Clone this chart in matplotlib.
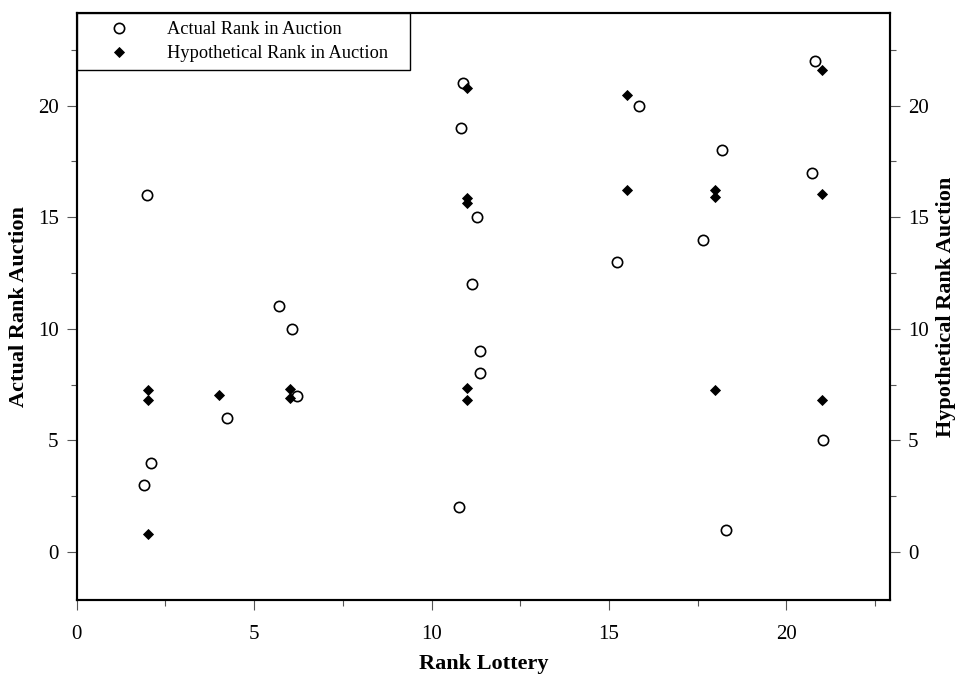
import matplotlib
matplotlib.use("Agg")
import matplotlib.pyplot as plt
from matplotlib.ticker import MultipleLocator

plt.rcParams['font.family'] = ['Liberation Serif', 'DejaVu Serif']

# Actual rank in auction (open circles), x = rank lottery (jittered)
actual_x = [1.99, 2.09, 1.91, 4.23, 5.71, 6.07, 6.20,
            10.88, 10.84, 11.27, 11.13, 11.38, 11.36, 10.78,
            15.84, 15.23, 18.20, 17.66, 18.31, 20.82, 20.73, 21.02]
actual_y = [16, 4, 3, 6, 11, 10, 7,
            21, 19, 15, 12, 9, 8, 2,
            20, 13, 18, 14, 1, 22, 17, 5]

# Hypothetical rank in auction (filled diamonds)
hypo_x = [2, 2, 2, 4, 6, 6,
          11, 11, 11, 11, 11,
          15.5, 15.5, 18, 18, 18, 21, 21, 21]
hypo_y = [7.27, 6.83, 0.79, 7.02, 7.30, 6.88,
          20.77, 15.87, 15.62, 7.35, 6.83,
          20.46, 16.24, 16.21, 15.91, 7.24, 21.60, 16.02, 6.80]

x_ticks = [0, 5, 10, 15, 20]
y_ticks = [0, 5, 10, 15, 20]

fig = plt.figure(figsize=(9.59, 6.79), dpi=100)
ax = fig.add_axes([0.080, 0.1163, 0.848, 0.864])
ax2 = ax.twinx()

h1, = ax.plot(actual_x, actual_y, linestyle='none', marker='o', markersize=7.4,
              markerfacecolor='white', markeredgecolor='black', markeredgewidth=1.2,
              label='Actual Rank in Auction', zorder=3)
h2, = ax2.plot(hypo_x, hypo_y, linestyle='none', marker='D', markersize=4.6,
               markerfacecolor='black', markeredgecolor='black', markeredgewidth=0.6,
               label='Hypothetical Rank in Auction', zorder=3)

ylim = (-2.15, 24.13)
ax.set_xlim(0, 22.92)
ax.set_ylim(*ylim)
ax2.set_ylim(*ylim)

for a in (ax, ax2):
    for s in a.spines.values():
        s.set_linewidth(1.5)
        s.set_color('black')

ax.set_xticks(x_ticks)
ax.set_yticks(y_ticks)
ax2.set_yticks(y_ticks)
ax.xaxis.set_minor_locator(MultipleLocator(2.5))
ax.yaxis.set_minor_locator(MultipleLocator(2.5))
ax2.yaxis.set_minor_locator(MultipleLocator(2.5))

ax.tick_params(axis='both', which='major', direction='out', length=7, width=0.8,
               color='#555555', labelsize=15, pad=6)
ax.tick_params(axis='both', which='minor', direction='out', length=4, width=0.8,
               color='#555555')
ax.tick_params(axis='x', which='major', pad=11)
ax2.tick_params(axis='y', which='major', direction='out', length=7, width=0.8,
                color='#555555', labelsize=15, pad=6)
ax2.tick_params(axis='y', which='minor', direction='out', length=4, width=0.8,
                color='#555555')

ax.set_xlabel('Rank Lottery', fontsize=16, fontweight='bold', labelpad=7)
ax.set_ylabel('Actual Rank Auction', fontsize=16, fontweight='bold', labelpad=6)
ax2.set_ylabel('Hypothetical Rank Auction', fontsize=16, fontweight='bold', labelpad=5)

leg = ax2.legend([h1, h2], [h1.get_label(), h2.get_label()], loc='upper left',
                 bbox_to_anchor=(0, 1, 0.41, 0), mode='expand', borderaxespad=0,
                 fancybox=False, framealpha=1, edgecolor='black', fontsize=13.2,
                 borderpad=0.42, labelspacing=0.39, handlelength=3.8,
                 handletextpad=0.7)
leg.get_frame().set_linewidth(1.0)

fig.savefig('out.png', dpi=100)
